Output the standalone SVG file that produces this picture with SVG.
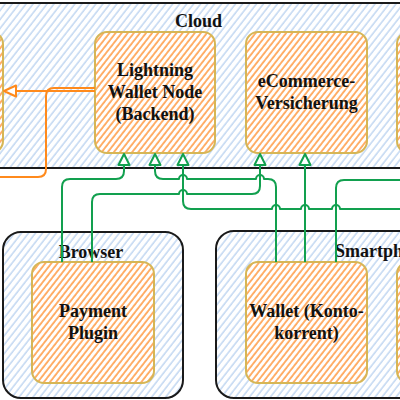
<svg xmlns="http://www.w3.org/2000/svg" width="400" height="400" viewBox="0 0 400 400">
<defs>
<pattern id="hb" patternUnits="userSpaceOnUse" width="5.5" height="10" patternTransform="rotate(38)">
<rect width="5.5" height="10" fill="#ffffff"/>
<line x1="1" y1="0" x2="1" y2="10" stroke="#abc8ec" stroke-width="1.1"/>
</pattern>
<pattern id="ho" patternUnits="userSpaceOnUse" width="4.8" height="10" patternTransform="rotate(38)">
<rect width="4.8" height="10" fill="#ffffff"/>
<line x1="1" y1="0" x2="1" y2="10" stroke="#ff8f2e" stroke-width="1.4"/>
</pattern>
</defs>
<style>
.cont{fill:url(#hb);stroke:#1a1a1a;stroke-width:2}
.node{fill:url(#ho);stroke:#d6b656;stroke-width:2}
.t{font-family:"Liberation Serif","Times New Roman",serif;font-weight:bold;font-size:18px;fill:#111;text-anchor:middle}
.g{fill:none;stroke:#12a04f;stroke-width:2;stroke-linejoin:round}
.o{fill:none;stroke:#ff8a1c;stroke-width:2;stroke-linejoin:round}
.ag{fill:#ffffff;stroke:#12a04f;stroke-width:2;stroke-linejoin:round}
.ao{fill:#ffffff;stroke:#ff8a1c;stroke-width:2;stroke-linejoin:round}
</style>
<g id="cloud">
<rect class="cont" x="-20" y="3" width="440" height="165"/>
<text class="t" x="198.5" y="27">Cloud</text>
</g>
<g id="left-node"><rect class="node" x="-117" y="32" width="120" height="121" rx="12"/></g>
<g id="lightning-wallet-node">
<rect class="node" x="95" y="32" width="120" height="121" rx="12"/>
<text class="t" x="155" y="76">Lightning</text>
<text class="t" x="155" y="98">Wallet Node</text>
<text class="t" x="155" y="120">(Backend)</text>
</g>
<g id="ecommerce">
<rect class="node" x="246" y="32" width="121" height="121" rx="12"/>
<text class="t" x="306.5" y="87">eCommerce-</text>
<text class="t" x="306.5" y="109">Versicherung</text>
</g>
<g id="right-node"><rect class="node" x="397" y="32" width="120" height="121" rx="12"/></g>
<g id="browser">
<rect class="cont" x="3" y="232" width="180" height="166" rx="18"/>
<text class="t" x="91" y="258">Browser</text>
</g>
<g id="payment-plugin">
<rect class="node" x="32" y="262" width="122" height="121" rx="12"/>
<text class="t" x="93" y="317">Payment</text>
<text class="t" x="93" y="339">Plugin</text>
</g>
<g id="smartphone">
<rect class="cont" x="216" y="231" width="260" height="167" rx="18"/>
<text class="t" x="335" y="257" style="text-anchor:start">Smartphone</text>
</g>
<g id="wallet">
<rect class="node" x="246" y="262" width="121" height="121" rx="12"/>
<text class="t" x="306.5" y="317">Wallet (Konto-</text>
<text class="t" x="306.5" y="339">korrent)</text>
</g>
<g id="right-phone-node"><rect class="node" x="397" y="262" width="120" height="121" rx="12"/></g>
<g id="connectors">
<path class="o" d="M95,91 H16"/>
<polygon class="ao" points="16,85.5 4,91 16,96.5"/>
<path class="o" d="M95,88 H54 Q46,88 46,96 V169 Q46,177 38,177 H-5"/>
<path class="g" d="M62,262 V187 Q62,179 70,179 H116 Q124,179 124,171 V165"/>
<path class="g" d="M92,262 V202 Q92,194 100,194 H179 A4,4 0 0 1 187,194 H252 Q260,194 260,186 V165"/>
<path class="g" d="M155,165 V171 Q155,179 163,179 H179 A4,4 0 0 1 187,179 H256 A4,4 0 0 1 264,179 H268 Q276,179 276,187 V262"/>
<path class="g" d="M183,165 V201 Q183,209 191,209 H272 A4,4 0 0 1 280,209 H301 A4,4 0 0 1 309,209 H332 A4,4 0 0 1 340,209 H410"/>
<path class="g" d="M305,262 V165"/>
<path class="g" d="M336,262 V188 Q336,180 344,180 H410"/>
<polygon class="ag" points="118.5,165 124,154 129.5,165"/>
<polygon class="ag" points="149.5,165 155,154 160.5,165"/>
<polygon class="ag" points="177.5,165 183,154 188.5,165"/>
<polygon class="ag" points="254.5,165 260,154 265.5,165"/>
<polygon class="ag" points="299.5,165 305,154 310.5,165"/>
</g>
</svg>
